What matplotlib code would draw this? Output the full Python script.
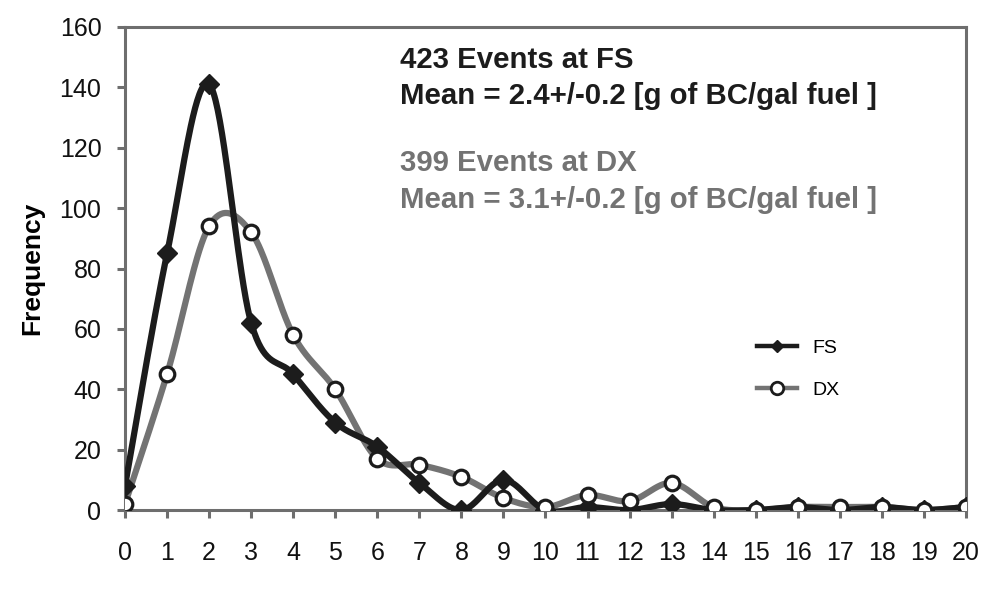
import numpy as np
import matplotlib
matplotlib.use("Agg")
import matplotlib.pyplot as plt
from matplotlib.lines import Line2D

# Event counts per bin (g of BC / gal fuel)
bins = list(range(0, 21))
fs_freq = [8, 85, 141, 62, 45, 29, 21, 9, 0, 10, 0, 1, 0, 2, 0, 0, 1, 0, 1, 0, 1]
dx_freq = [2, 45, 94, 92, 58, 40, 17, 15, 11, 4, 1, 5, 3, 9, 1, 0, 1, 1, 1, 0, 1]

fs_text = ["423 Events at FS", "Mean = 2.4+/-0.2 [g of BC/gal fuel ]"]
dx_text = ["399 Events at DX", "Mean = 3.1+/-0.2 [g of BC/gal fuel ]"]

BLACK = "#1c1c1c"
GREY = "#737373"
AXIS = "#6e6e6e"


def smooth(x, y, n=40):
    # Excel-style smoothed line (Catmull-Rom as cubic Bezier segments)
    x = np.asarray(x, float)
    y = np.asarray(y, float)
    px = np.concatenate([[x[0]], x, [x[-1]]])
    py = np.concatenate([[y[0]], y, [y[-1]]])
    xs, ys = [], []
    t = np.linspace(0, 1, n)
    for i in range(1, len(px) - 2):
        p0 = np.array([px[i], py[i]])
        p3 = np.array([px[i + 1], py[i + 1]])
        p1 = p0 + (np.array([px[i + 1], py[i + 1]]) - np.array([px[i - 1], py[i - 1]])) / 6
        p2 = p3 - (np.array([px[i + 2], py[i + 2]]) - np.array([px[i], py[i]])) / 6
        b = ((1 - t) ** 3)[:, None] * p0 + (3 * (1 - t) ** 2 * t)[:, None] * p1 \
            + (3 * (1 - t) * t ** 2)[:, None] * p2 + (t ** 3)[:, None] * p3
        xs.extend(b[:, 0])
        ys.extend(b[:, 1])
    return xs, ys


plt.rcParams["font.family"] = ["Liberation Sans", "DejaVu Sans"]

fig = plt.figure(figsize=(9.89, 5.89), dpi=100)
ax = fig.add_axes([0.1264, 0.134, 0.8503, 0.8202])

sx, sy = smooth(bins, dx_freq)
ax.plot(sx, sy, color=GREY, lw=4.5, solid_capstyle="round", zorder=2)
ax.plot(bins, dx_freq, ls="none", marker="o", ms=10.5, mfc="white",
        mec=BLACK, mew=2.3, zorder=4)

sx, sy = smooth(bins, fs_freq)
ax.plot(sx, sy, color=BLACK, lw=4.5, solid_capstyle="round", zorder=3)
ax.plot(bins, fs_freq, ls="none", marker="D", ms=10, color=BLACK, zorder=3)

ax.set_xlim(0, 20)
ax.set_ylim(0, 160)
ax.set_xticks(bins)
ax.set_yticks(range(0, 161, 20))
ax.tick_params(axis="both", direction="out", length=6, width=2.2, color=AXIS,
               labelsize=18, labelcolor="#111111")
ax.tick_params(axis="y", pad=11)
ax.tick_params(axis="x", pad=16)
for side in ax.spines.values():
    side.set_color(AXIS)
    side.set_linewidth(2.2)
ax.set_ylabel("Frequency", fontsize=19, fontweight="bold", labelpad=11)

# two annotation blocks, one line at a time
for txt, yy in zip(fs_text, [0.916, 0.841]):
    ax.text(0.327, yy, txt, transform=ax.transAxes, fontsize=21.2,
            fontweight="bold", color=BLACK, va="baseline")
for txt, yy in zip(dx_text, [0.702, 0.625]):
    ax.text(0.327, yy, txt, transform=ax.transAxes, fontsize=21.2,
            fontweight="bold", color=GREY, va="baseline")

handles = [
    Line2D([], [], color=BLACK, lw=3.2, marker="D", ms=6.5, mfc=BLACK, mec=BLACK),
    Line2D([], [], color=GREY, lw=3.2, marker="o", ms=9, mfc="white", mec=BLACK, mew=2),
]
ax.legend(handles, ["FS", "DX"], loc="center left", bbox_to_anchor=(0.742, 0.292),
          borderaxespad=0, frameon=False, fontsize=14, handlelength=2.06,
          handletextpad=0.82, labelspacing=1.26)

fig.savefig("out.png", dpi=100, facecolor="white")
